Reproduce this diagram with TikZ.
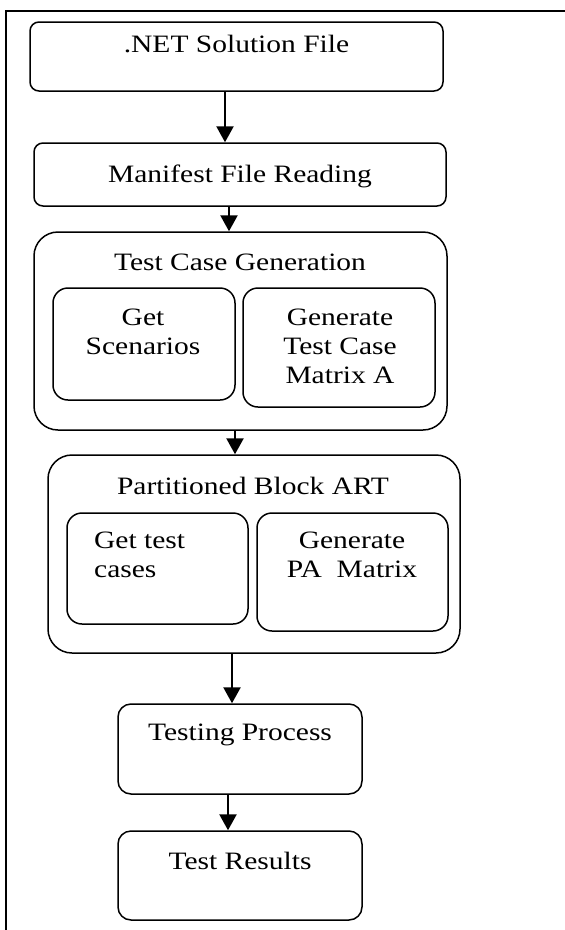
\documentclass[tikz,border=0pt]{standalone}
\usepackage{fontspec}
\setmainfont{Liberation Serif}
\usepackage{graphicx}
\usetikzlibrary{arrows.meta}

% текст блока, растянутый по ширине
\newcommand{\blocktext}[2][c]{\scalebox{1.18}[1]{\begin{tabular}{@{}#1@{}}#2\end{tabular}}}

\tikzset{
	box/.style={draw, line width=1.5pt, rounded corners=9pt, inner sep=0pt},
	group/.style={box, rounded corners=24pt},
	subbox/.style={box, rounded corners=15pt},
	caption/.style={inner sep=0pt},
	flow/.style={line width=2.4pt, -{Triangle[width=17pt 0 0,length=16pt 0 0]}},
	frame/.style={line width=1.5pt}
}

\begin{document}
\begin{tikzpicture}[x=1pt, y=-1pt, font=\fontsize{25}{29}\selectfont]
		\useasboundingbox ( 0, 0 ) rectangle ( 565, 930 );

		% рамка
		\draw [frame] ( 6, 930 ) -- ( 6, 11 ) -- ( 565, 11 );

		% исходный файл
		\node [box, minimum width=413pt, minimum height=69pt] (solution) at ( 236.5, 56.5 ) {};
		\node [caption] (solutiontext) at ( 236.5, 47 ) {\blocktext{.NET Solution File}};

		% чтение манифеста
		\node [box, minimum width=412pt, minimum height=63pt] (manifest) at ( 240, 174.5 ) {};
		\node [caption] (manifesttext) at ( 240, 177 ) {\blocktext{Manifest File Reading}};

		% генерация тестов
		\node [group, minimum width=413pt, minimum height=198pt] (generation) at ( 240.5, 331 ) {};
		\node [caption] (generationtext) at ( 240, 265 ) {\blocktext{Test Case Generation}};
		\node [subbox, minimum width=182pt, minimum height=112pt] (scenarios) at ( 144, 344 ) {};
		\node [caption] (scenariostext) at ( 143, 334 ) {\blocktext{Get\\Scenarios}};
		\node [subbox, minimum width=192pt, minimum height=119pt] (matrixa) at ( 339, 347.5 ) {};
		\node [caption] (matrixatext) at ( 340, 349 ) {\blocktext{Generate\\Test Case\\Matrix A}};

		% блочный ART
		\node [group, minimum width=412pt, minimum height=198pt] (art) at ( 254, 554 ) {};
		\node [caption] (arttext) at ( 253, 489 ) {\blocktext{Partitioned Block ART}};
		\node [subbox, minimum width=181pt, minimum height=111pt] (cases) at ( 157.5, 568.5 ) {};
		\node [caption, anchor=west] (casestext) at ( 94, 557 ) {\blocktext[l]{Get test\\cases}};
		\node [subbox, minimum width=191pt, minimum height=118pt] (pamatrix) at ( 352.5, 572 ) {};
		\node [caption] (pamatrixtext) at ( 352, 557 ) {\blocktext{Generate\\PA~~Matrix}};

		% тестирование и результаты
		\node [box, rounded corners=13pt, minimum width=244pt, minimum height=90pt] (testing) at ( 240, 749 ) {};
		\node [caption] (testingtext) at ( 240, 735 ) {\blocktext{Testing Process}};
		\node [box, rounded corners=13pt, minimum width=244pt, minimum height=89pt] (results) at ( 240, 875.5 ) {};
		\node [caption] (resultstext) at ( 240, 864 ) {\blocktext{Test Results}};

		% стрелки
		\coordinate (s1) at ( 225, 0 );
		\coordinate (s2) at ( 229, 0 );
		\coordinate (s3) at ( 235, 0 );
		\coordinate (s4) at ( 232, 0 );
		\coordinate (s5) at ( 228, 0 );
		\draw [flow] (solution.south -| s1) -- (manifest.north -| s1);
		\draw [flow] (manifest.south -| s2) -- (generation.north -| s2);
		\draw [flow] (generation.south -| s3) -- (art.north -| s3);
		\draw [flow] (art.south -| s4) -- (testing.north -| s4);
		\draw [flow] (testing.south -| s5) -- (results.north -| s5);
	\end{tikzpicture}
\end{document}
